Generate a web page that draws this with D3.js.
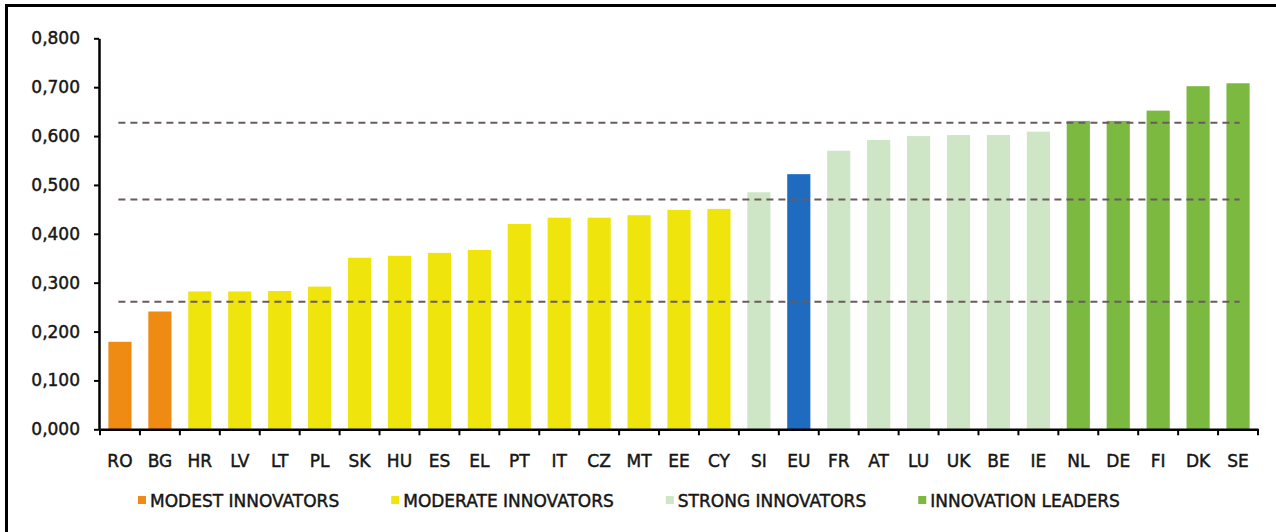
<!DOCTYPE html>
<html>
<head>
<meta charset="utf-8">
<script src="https://cdn.jsdelivr.net/npm/d3@7"></script>
<style>
  html, body { margin: 0; padding: 0; background: #ffffff; }
  svg { display: block; }
</style>
</head>
<body>
<svg id="chart" width="1276" height="532"></svg>
<script>
// ---- data ----
const categories = ["RO","BG","HR","LV","LT","PL","SK","HU","ES","EL","PT","IT","CZ","MT","EE","CY","SI","EU","FR","AT","LU","UK","BE","IE","NL","DE","FI","DK","SE"];
const values = [0.179,0.241,0.282,0.282,0.283,0.292,0.351,0.355,0.361,0.367,0.420,0.433,0.433,0.438,0.449,0.451,0.485,0.522,0.570,0.592,0.600,0.602,0.602,0.609,0.631,0.631,0.652,0.702,0.708];
const groups = ["modest","modest","moderate","moderate","moderate","moderate","moderate","moderate","moderate","moderate","moderate","moderate","moderate","moderate","moderate","moderate","strong","eu","strong","strong","strong","strong","strong","strong","leader","leader","leader","leader","leader"];
const thresholds = [0.627, 0.470, 0.261];
const yTicks = [0,0.1,0.2,0.3,0.4,0.5,0.6,0.7,0.8];
const legendKeys = ["modest","moderate","strong","leader"];
const legendLabels = ["MODEST INNOVATORS","MODERATE INNOVATORS","STRONG INNOVATORS","INNOVATION LEADERS"];

// ---- styles ----
const colors = {modest:"#EF8A12", moderate:"#EFE40C", strong:"#CFE6C6", eu:"#1E6BC0", leader:"#7BB940"};
const FONT = "'DejaVu Sans', sans-serif";
const TEXT_COL = "#161616";

const svg = d3.select("#chart");

// frame
svg.append("path")
  .attr("d", "M6.5,540 L6.5,5.5 L1290,5.5")
  .attr("fill", "none").attr("stroke", "#000").attr("stroke-width", 3);

const mLeft = 100, mRight = 1258, mTop = 38.3, mBottom = 429.3;

const x = d3.scaleBand().domain(categories).range([mLeft, mRight]).paddingInner(0.42).paddingOuter(0.21);
const y = d3.scaleLinear().domain([0, 0.8]).range([mBottom, mTop]);

// bars
svg.append("g").selectAll("rect")
  .data(categories)
  .join("rect")
  .attr("x", d => x(d))
  .attr("width", x.bandwidth())
  .attr("y", (d,i) => y(values[i]))
  .attr("height", (d,i) => y(0) - y(values[i]))
  .attr("fill", (d,i) => colors[groups[i]]);

// dashed threshold lines
svg.append("g").selectAll("line")
  .data(thresholds)
  .join("line")
  .attr("x1", x(categories[0]) + 10)
  .attr("x2", x(categories[categories.length-1]) + x.bandwidth() - 10)
  .attr("y1", d => y(d)).attr("y2", d => y(d))
  .attr("stroke", "#6a5c5e").attr("stroke-width", 2)
  .attr("stroke-dasharray", "7,5");

function styleText(sel) {
  sel.attr("font-family", FONT).attr("font-size", 17).attr("fill", TEXT_COL)
     .attr("stroke", TEXT_COL).attr("stroke-width", 0.45);
}

// y axis
const yAxis = d3.axisLeft(y)
  .tickValues(yTicks)
  .tickFormat(d => d3.format(".3f")(d).replace(".", ","))
  .tickSize(5).tickSizeOuter(0).tickPadding(14);
const gy = svg.append("g").attr("transform", `translate(${mLeft - 1},0)`).call(yAxis);
gy.select(".domain").attr("stroke", "#000").attr("stroke-width", 2.5);
gy.selectAll(".tick line").attr("stroke", "#000").attr("stroke-width", 2);
styleText(gy.selectAll(".tick text"));

// x axis (labels at band centres)
const xAxis = d3.axisBottom(x).tickSize(0).tickSizeOuter(0).tickPadding(26);
const gx = svg.append("g").attr("transform", `translate(0,${mBottom})`).call(xAxis);
gx.select(".domain").attr("stroke", "#000").attr("stroke-width", 2.5);
styleText(gx.selectAll(".tick text"));

// x tick marks at band boundaries
const step = x.step();
const bounds = categories.map(c => x(c) - step * x.paddingInner() / 2).concat([mRight]);
svg.append("g").selectAll("line")
  .data(bounds)
  .join("line")
  .attr("x1", d => d).attr("x2", d => d)
  .attr("y1", mBottom).attr("y2", mBottom + 6)
  .attr("stroke", "#000").attr("stroke-width", 2);

// legend
const lg = svg.append("g");
let cx = 150;
legendKeys.forEach((k, i) => {
  const g = lg.append("g");
  g.append("rect")
    .attr("x", cx - 12).attr("y", 496)
    .attr("width", 8).attr("height", 8)
    .attr("fill", colors[k]);
  const t = g.append("text")
    .attr("x", cx).attr("y", 507)
    .text(legendLabels[i]);
  styleText(t);
  cx += t.node().getComputedTextLength() + 64;
});
</script>
</body>
</html>
